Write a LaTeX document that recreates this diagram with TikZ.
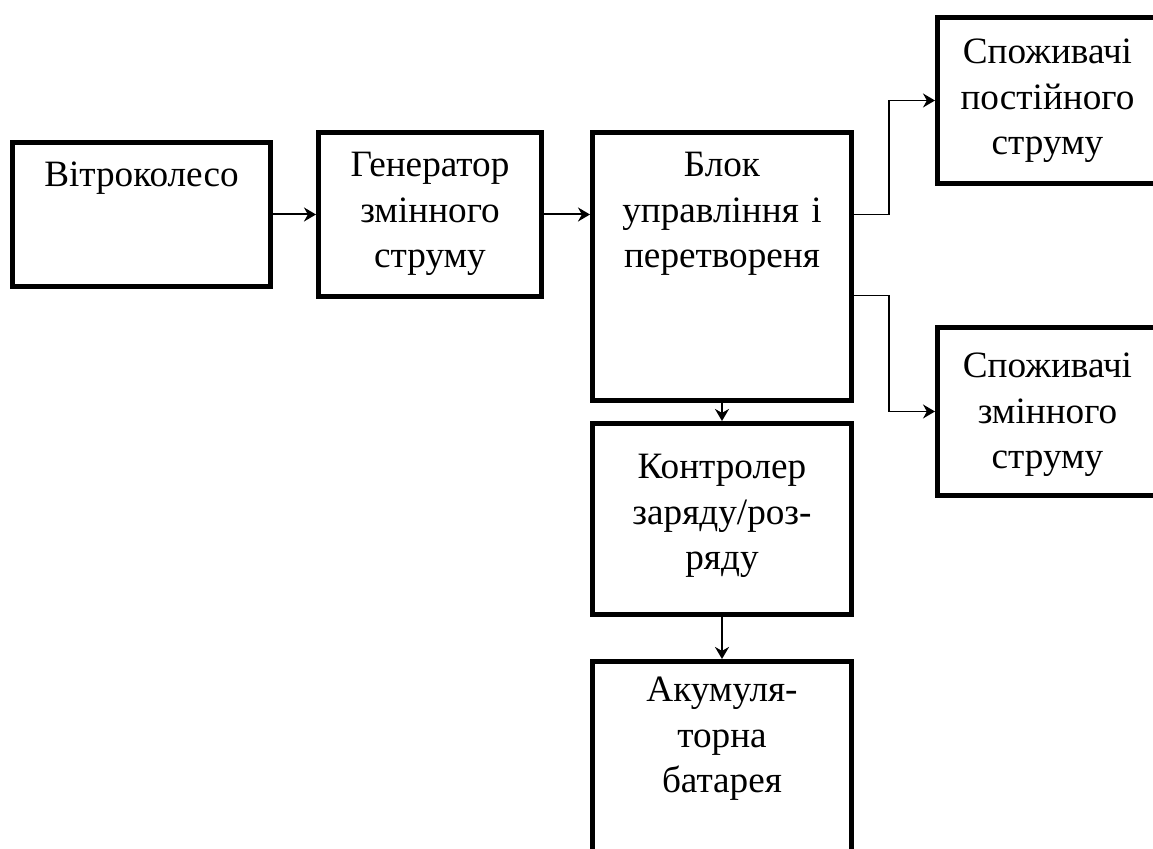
\documentclass[tikz,border=0pt]{standalone}
\usepackage{fontspec}
\setmainfont{Liberation Serif}
\usetikzlibrary{arrows.meta,positioning,calc}

\begin{document}
\begin{tikzpicture}[
    x=0.5pt, y=-0.5pt,
    box/.style={rectangle, draw=black, line width=2.5pt, inner sep=0pt,
                align=center, anchor=north west,
                font=\fontsize{18.6}{22.8}\selectfont},
    arrow/.style={-{Stealth[length=6pt, width=7pt]}, line width=1pt},
    branch/.style={-{Stealth[length=6pt, width=7pt]}, line width=0.75pt}
]
    \clip (0,0) rectangle (1153,849);

    \node[box, text width=129pt, text height=22pt, text depth=50pt] (wheel) at (10,140) {Вітроколесо};
    \node[box, text width=111.5pt, text height=22pt, text depth=60pt] (gen) at (316,130) {Генератор\\змінного\\струму};
    \node[box, text width=129.5pt, text height=22pt, text depth=112pt] (block) at (590,130) {Блок\\управління і\\перетвореня};

    \node[box, text width=110pt, text height=23pt, text depth=60pt] (dc) at (935,15) {Споживачі\\постійного\\струму};
    \node[box, text width=110pt, text height=25pt, text depth=59pt] (ac) at (935,325) {Споживачі\\змінного\\струму};

    \node[box, text width=129.5pt, text height=27.5pt, text depth=68pt, below=9pt of block.south west, anchor=north west] (ctrl) {Контролер\\заряду/роз-\\ряду};
    \node[box, text width=129.5pt, text height=20pt, text depth=110.5pt, below=21pt of ctrl.south west, anchor=north west] (bat) {Акумуля-\\торна\\батарея};

    \draw[arrow] (wheel.east) -- (wheel.east -| gen.west);
    \draw[arrow] (gen.east) -- (gen.east -| block.west);
    \draw[branch] (gen.east -| block.east) -- ++(35,0) |- (dc.west);
    \draw[branch] ($(block.east)+(0,29)$) -- ++(35,0) |- (ac.west);
    \draw[arrow] (block.south) -- (ctrl.north);
    \draw[arrow] (ctrl.south) -- (bat.north);
\end{tikzpicture}
\end{document}
